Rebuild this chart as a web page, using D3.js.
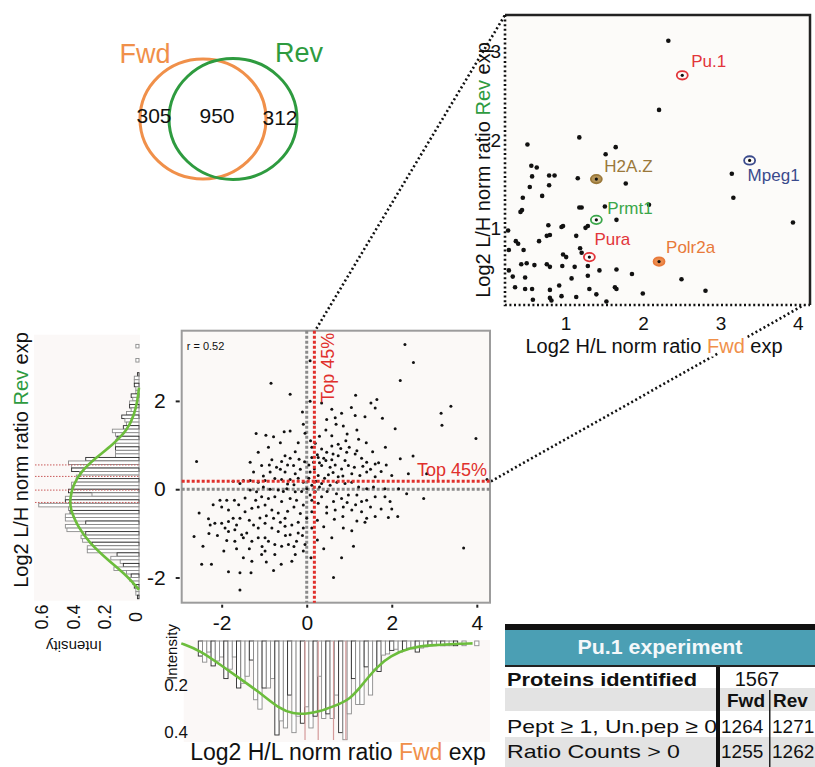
<!DOCTYPE html>
<html lang="en">
<head>
<meta charset="UTF-8">
<title>Pu.1 experiment - Fwd vs Rev</title>
<script src="https://d3js.org/d3.v7.min.js"></script>
<style>
  body { margin: 0; background: #fff; }
  svg { display: block; font-family: "Liberation Sans", Arial, Helvetica, sans-serif; }
</style>
</head>
<body>
<svg id="chart" width="815" height="767"></svg>
<script>
// ---- data ----
const vennLabels = ["Fwd", "Rev"];
const vennCounts = [305, 950, 312];          // Fwd only, both, Rev only

// main scatter: [log2 H/L Fwd, log2 L/H Rev]
const mainPoints = [
  [2.31,3.28],[2.51,2.87],[2.20,2.46],[-0.84,2.40],[-0.39,2.15],[0.08,2.91],[0.08,1.99],[0.59,1.81],[0.82,1.72],[1.15,2.13],
  [1.51,1.95],[1.65,2.03],[1.61,1.84],[1.14,1.67],[1.37,1.64],[1.78,1.61],[2.08,1.37],[3.16,1.72],[3.39,1.88],[3.18,1.45],
  [3.98,1.15],[-1.19,1.26],[-0.96,1.22],[-0.78,1.19],[-0.53,1.30],[-0.39,1.32],[-0.08,1.47],[-0.04,1.27],[0.09,1.10],[0.20,1.04],
  [0.12,0.95],[0.47,1.58],[0.69,1.47],[0.67,1.62],[0.45,1.34],[0.59,1.21],[0.86,1.43],[1.18,1.34],[1.22,1.13],[0.92,1.10],
  [0.74,1.02],[0.59,0.98],[0.35,0.91],[0.47,0.84],[0.27,0.72],[0.45,0.65],[0.59,0.67],[0.74,0.76],[0.94,0.84],[1.14,0.80],
  [1.18,0.87],[1.29,0.70],[1.41,0.61],[1.61,0.57],[1.69,0.60],[1.87,0.55],[2.20,0.69],[0.90,0.65],[0.55,0.50],[0.67,0.55],
  [0.98,0.54],[0.82,0.46],[0.35,0.54],[0.16,0.61],[0.18,0.46],[0.08,0.39],[0.27,0.31],[0.51,0.33],[0.74,0.28],[1.06,0.35],
  [1.25,0.31],[1.41,0.39],[1.61,0.28],[2.00,0.31],[2.39,0.35],[2.82,0.35],[-0.27,0.85],[-0.51,0.76],[-0.82,0.67],[-1.14,0.84],
  [-1.33,0.61],[-1.25,0.39],[-1.06,0.54],[-0.86,0.39],[-0.71,0.50],[-0.59,0.63],[-0.39,0.70],[-0.31,0.54],[-0.27,0.35],[-0.51,0.39],
  [-0.75,0.24],[-0.98,0.20],[-1.14,0.16],[-1.49,0.20],[-1.73,0.18],[-1.57,0.13],[-1.33,0.20],[-0.59,0.22],[-0.39,0.22],[-0.20,0.25],
  [-0.08,0.16],[0.00,0.01],[0.12,0.09],[0.35,0.13],[0.55,0.09],[0.71,0.16],[0.90,0.13],[1.06,0.16],[1.22,0.05],[1.41,0.01],
  [1.57,0.05],[1.84,0.01],[2.16,0.01],[2.75,-0.21],[4.24,0.22],[-2.59,0.63],[0.08,-0.13],[0.20,-0.06],[0.35,-0.17],[0.12,-0.25],
  [-0.08,-0.36],[-0.27,-0.06],[-0.47,0.01],[-0.67,-0.02],[-0.86,0.00],[-1.02,0.05],[-1.18,-0.06],[-1.33,-0.02],[-1.06,-0.17],[-0.90,-0.21],
  [-0.75,-0.17],[-0.59,-0.28],[-0.39,-0.21],[-0.24,-0.25],[0.27,-0.32],[0.47,-0.40],[0.63,-0.28],[0.82,-0.21],[0.98,-0.13],[1.18,-0.13],
  [1.29,-0.28],[1.41,-0.25],[1.61,-0.17],[1.84,-0.17],[1.96,-0.28],[0.47,-0.54],[0.67,-0.47],[0.86,-0.40],[1.06,-0.47],[1.29,-0.51],
  [1.41,-0.66],[1.61,-0.62],[1.92,-0.64],[2.14,-0.62],[1.18,-0.72],[1.37,-0.75],[1.06,-0.94],[0.86,-0.88],[0.59,-1.10],[0.82,-1.55],
  [0.63,-2.00],[1.10,-1.29],[0.12,-0.51],[0.00,-0.66],[0.12,-0.88],[-0.08,-0.88],[-0.20,-0.99],[-0.35,-0.81],[-0.51,-0.66],[-0.67,-0.54],
  [-0.82,-0.47],[-0.98,-0.36],[-1.14,-0.40],[-1.29,-0.43],[-1.45,-0.51],[-1.57,-0.66],[-1.65,-0.81],[-1.84,-0.73],[-2.00,-0.77],[-2.16,-0.77],
  [-2.31,-0.67],[-2.53,-0.54],[-2.27,-0.81],[-2.04,-0.25],[-1.88,-0.25],[-1.70,-0.25],[-2.00,-0.40],[-1.84,-0.47],[-1.73,-0.66],[-1.92,-0.88],
  [-1.84,-0.96],[-1.69,-0.92],[-1.53,-1.03],[-1.41,-0.99],[-1.25,-0.81],[-1.14,-0.88],[-0.98,-0.77],[-0.78,-0.66],[-0.82,-0.88],[-0.67,-0.96],
  [-0.51,-0.84],[-0.39,-1.03],[-0.24,-1.18],[-0.43,-1.25],[-0.59,-1.29],[-0.75,-1.25],[-0.90,-1.18],[-0.98,-1.10],[-1.14,-1.10],[-1.29,-1.18],
  [-1.49,-1.10],[-1.69,-1.18],[-1.88,-1.16],[-2.65,-1.07],[-2.44,-1.29],[-2.47,-1.70],[-2.24,-1.70],[-1.84,-1.87],[-1.57,-1.89],[-1.31,-1.89],
  [-1.49,-1.55],[-1.29,-1.63],[-1.06,-1.48],[-0.98,-1.40],[-0.75,-1.48],[-0.78,-1.84],[-0.35,-1.63],[-0.27,-1.48],[-0.08,-1.40],[-0.04,-1.25],
  [-1.57,-2.28],[3.69,-1.33],
  [0.25,0.78],[0.40,0.70],[0.62,0.80],[0.80,0.92],[1.00,0.95],[0.30,0.60],[0.12,0.72],[0.05,0.55],[-0.05,0.62],[-0.15,0.45],
  [-0.18,0.68],[-0.45,0.55],[-0.62,0.45],[-0.88,0.55],[-1.02,0.30],[-0.45,0.12],[-0.30,0.10],[-0.12,-0.05],[0.05,0.25],[0.22,0.18],
  [0.42,0.25],[0.62,0.38],[0.85,0.30],[1.12,0.50],[1.32,0.52],[1.50,0.45],[1.75,0.40],[0.30,0.05],[0.48,-0.05],[0.70,-0.10],
  [0.95,-0.30],[1.15,-0.35],[1.50,-0.40],[1.75,-0.45],[0.25,-0.70],[0.40,-0.85],[0.65,-0.68],[0.85,-0.62],[-0.15,-0.55],[-0.30,-0.40],
  [-0.45,-0.50],[-0.62,-0.75],[-0.95,-0.60],[-1.10,-0.65],[-1.35,-0.70],[-1.60,-0.35],[-1.45,-0.20],[-1.20,-0.25],[-0.55,-0.05],[-0.20,-0.75],
  [-0.30,-1.30],[-0.50,-1.05],[-0.10,-1.05],[0.25,-1.15],[0.40,-1.35],[-1.05,-1.30],[-1.35,-1.35],[-1.65,-1.35],[-2.10,-1.05],[-2.20,-0.35],
  [-0.90,0.95],[-0.62,1.05],[-0.20,1.05],[0.30,1.20],[0.95,1.25],[1.40,1.05],[1.55,0.85],[1.85,0.95],[2.50,0.75],[2.35,-0.10],
  [2.00,-0.45],[0.18,1.50],[-0.10,1.75],[0.35,1.95],[1.05,1.85],[-0.95,-1.65],[-0.60,-1.70],[0.10,-1.55],[-1.95,-1.40],[-2.30,-1.00]
];
const corrText = "r = 0.52";
const topCut = 0.18;                  // "Top 45%" threshold, both axes
const topLabel = "Top 45%";
const mainXTicks = [-2, 0, 2, 4];
const mainYTicks = [-2, 0, 2];

// zoomed top-right quadrant
const zoomPoints = [
  [2.32,3.12],[2.20,2.34],[1.17,2.03],[0.50,1.95],[1.64,1.92],[1.51,1.84],[0.55,1.71],[0.62,1.69],[0.78,1.60],[0.85,1.60],
  [0.56,1.59],[1.15,1.57],[1.77,1.51],[3.14,1.62],[0.53,1.47],[0.78,1.49],[0.69,1.37],[0.44,1.35],[3.16,1.35],[1.17,1.24],
  [1.20,1.24],[1.50,1.25],[2.07,1.27],[0.43,1.21],[0.41,1.19],[1.65,1.10],[3.93,1.07],[0.77,1.04],[0.94,1.02],[0.96,1.03],
  [1.28,1.03],[1.25,1.01],[0.25,0.98],[0.79,0.93],[0.75,0.92],[0.65,0.86],[1.13,0.92],[0.35,0.86],[0.38,0.83],[0.26,0.76],
  [0.45,0.76],[0.96,0.71],[1.00,0.68],[1.18,0.78],[1.20,0.73],[0.42,0.60],[0.49,0.61],[0.59,0.59],[0.75,0.60],[0.79,0.57],
  [0.95,0.58],[1.11,0.57],[1.28,0.58],[1.43,0.53],[1.65,0.54],[1.85,0.49],[0.26,0.53],[0.31,0.46],[0.47,0.45],[0.34,0.34],
  [0.47,0.32],[0.56,0.32],[0.79,0.31],[0.91,0.36],[1.07,0.44],[1.28,0.47],[1.63,0.34],[1.65,0.32],[1.99,0.27],[2.49,0.43],
  [2.80,0.30],[1.39,0.26],[1.13,0.23],[0.94,0.24],[0.79,0.22],[0.57,0.20],[0.81,0.19],[1.52,0.18],[1.30,0.32]
];
const markedNames = ["Pu.1", "H2A.Z", "Prmt1", "Pura", "Polr2a", "Mpeg1"];
const markedX = [2.50, 1.39, 1.39, 1.30, 2.20, 3.37];
const markedY = [2.73, 1.56, 1.10, 0.68, 0.63, 1.77];
const zoomXTicks = [1, 2, 3, 4];
const zoomYTicks = [1, 2, 3];

// Rev histogram (left, rotated); bins listed from the top (high ratio) down
const revBinTop = 3.36, revBinStep = 0.08;
const revHist = [
  0,0.02,0,0,0,0.02,0,0,0,0.01,
  0.03,0.03,0.03,0.02,0.02,0.05,0.04,0.06,0.06,0.05,
  0.08,0.11,0.09,0.08,0.10,0.17,0.15,0.14,0.15,0.15,
  0.15,0.15,0.15,0.34,0.45,0.43,0.43,0.38,0.40,0.40,
  0.43,0.43,0.45,0.30,0.47,0.47,0.64,0.45,0.44,0.47,
  0.47,0.34,0.47,0.46,0.34,0.37,0.36,0.30,0.33,0.33,
  0.14,0.18,0.12,0.10,0.16,0.08,0.05,0.06,0.04,0.03,
  0.02,0.02,0.01
];
const revDensity = [[2.3,0],[2.0,0.01],[1.7,0.03],[1.35,0.07],[1.0,0.17],[0.7,0.28],[0.4,0.37],[0.1,0.42],
  [-0.2,0.44],[-0.45,0.44],[-0.85,0.39],[-1.2,0.32],[-1.6,0.20],[-1.98,0.07],[-2.28,0]];
const revQuantiles = [0.55, 0.29, -0.02, -0.30];
const revIntTicks = [0, 0.2, 0.4, 0.6];

// Fwd histogram (bottom, hanging); bins listed from the left
const fwdBinStart = -2.55, fwdBinStep = 0.1;
const fwdHist = [
  0.064,0.09,0.047,0.106,0.085,0.068,0.16,0.12,0.068,0.20,
  0.18,0.15,0.081,0.25,0.29,0.20,0.20,0.16,0.40,0.34,
  0.37,0.23,0.39,0.32,0.35,0.28,0.37,0.32,0.15,0.33,
  0.31,0.33,0.23,0.39,0.42,0.31,0.16,0.27,0.27,0.11,
  0.23,0.12,0.13,0.06,0.055,0.04,0.035,0.047,0.038,0.03,
  0.033,0.047,0.03,0.025,0.02,0.02,0.015,0.02,0.02,0.02,
  0.02,0,0.02,0,0,0.02
];
const fwdDensity = [[-2.95,0.01],[-2.51,0.04],[-2.04,0.10],[-1.57,0.16],[-1.10,0.22],[-0.63,0.29],[-0.32,0.31],
  [0.0,0.31],[0.31,0.30],[0.6,0.28],[1.02,0.25],[1.33,0.18],[1.65,0.11],[1.96,0.064],[2.43,0.028],[2.9,0.018],[3.5,0.012],[3.9,0.01]];
const fwdQuantiles = [-0.04, 0.27, 0.63, 0.92];
const fwdIntTicks = [0.2, 0.4];

// summary table
const tableTitle = "Pu.1 experiment";
const tableTotal = ["Proteins identified", "1567"];
const tableCols = ["Fwd", "Rev"];
const tableRows = [
  ["Pept \u2265 1, Un.pep \u2265 0", "1264", "1271"],
  ["Ratio Counts > 0", "1255", "1262"]
];

// ---- drawing ----
const ORANGE = "#f0904a", GREEN = "#2e9b3f", RED = "#e0302c", CURVE = "#6cbd3c";
const svg = d3.select("#chart");

// Venn
svg.append("ellipse").attr("cx", 203).attr("cy", 119).attr("rx", 63).attr("ry", 60)
  .attr("fill", "none").attr("stroke", ORANGE).attr("stroke-width", 3);
svg.append("ellipse").attr("cx", 233).attr("cy", 119).attr("rx", 64).attr("ry", 60.5)
  .attr("fill", "none").attr("stroke", GREEN).attr("stroke-width", 3);
svg.append("text").attr("x", 145).attr("y", 63).attr("text-anchor", "middle")
  .attr("font-size", 27).attr("fill", ORANGE).text(vennLabels[0]);
svg.append("text").attr("x", 299).attr("y", 62).attr("text-anchor", "middle")
  .attr("font-size", 27).attr("fill", GREEN).text(vennLabels[1]);
const vennPos = [[154, 123], [217, 123], [280, 125]];
vennCounts.forEach((c, i) => {
  svg.append("text").attr("x", vennPos[i][0]).attr("y", vennPos[i][1]).attr("text-anchor", "middle")
    .attr("font-size", 21).attr("fill", "#111").text(c);
});

// main scatter
const x = d3.scaleLinear().domain([-2.94, 4.31]).range([181.7, 490]);
const y = d3.scaleLinear().domain([-2.57, 3.59]).range([602.7, 330.7]);
const [x0, x1] = x.range(), [y0, y1] = y.range();

// connector lines to the zoomed quadrant
const zx = d3.scaleLinear().domain([0.21, 4.15]).range([505, 810]);
const zy = d3.scaleLinear().domain([0.14, 3.41]).range([305, 15]);
const dotted = g => g.attr("stroke", "#111").attr("stroke-width", 2.6).attr("stroke-dasharray", "2,2.6");
svg.append("line").attr("x1", x(topCut) + 2).attr("y1", y1 - 2).attr("x2", zx.range()[0]).attr("y2", zy.range()[1]).call(dotted);
svg.append("line").attr("x1", x1 + 1).attr("y1", y(topCut)).attr("x2", zx.range()[1] - 6).attr("y2", zy.range()[0]).call(dotted);

svg.append("rect").attr("x", x0).attr("y", y1).attr("width", x1 - x0).attr("height", y0 - y1)
  .attr("fill", "#fbf9f7").attr("stroke", "#9c9c9c").attr("stroke-width", 2);

svg.append("line").attr("x1", x(0)).attr("x2", x(0)).attr("y1", y1).attr("y2", y0)
  .attr("stroke", "#8a8a8a").attr("stroke-width", 3).attr("stroke-dasharray", "3,2");
svg.append("line").attr("x1", x0).attr("x2", x1).attr("y1", y(0)).attr("y2", y(0))
  .attr("stroke", "#8a8a8a").attr("stroke-width", 3).attr("stroke-dasharray", "3,2");

svg.append("g").selectAll("circle").data(mainPoints).join("circle")
  .attr("cx", d => x(d[0])).attr("cy", d => y(d[1])).attr("r", 1.5).attr("fill", "#111");

svg.append("line").attr("x1", x(topCut)).attr("x2", x(topCut)).attr("y1", y1).attr("y2", y0)
  .attr("stroke", RED).attr("stroke-width", 3).attr("stroke-dasharray", "3,2");
svg.append("line").attr("x1", x0).attr("x2", x1).attr("y1", y(topCut)).attr("y2", y(topCut))
  .attr("stroke", RED).attr("stroke-width", 3).attr("stroke-dasharray", "3,2");

svg.append("text").attr("transform", `translate(${x(topCut) + 13},${y1 + 37}) rotate(-90)`)
  .attr("text-anchor", "middle").attr("dy", "0.35em").attr("font-size", 18).attr("fill", RED).text(topLabel);
svg.append("text").attr("x", x1 - 3).attr("y", y(topCut) - 5).attr("text-anchor", "end")
  .attr("font-size", 18).attr("fill", RED).text(topLabel);
svg.append("text").attr("x", x0 + 5).attr("y", y1 + 19).attr("font-size", 11).attr("fill", "#111").text(corrText);

const yAx = svg.append("g").attr("transform", `translate(${x0 - 2},0)`)
  .call(d3.axisLeft(y).tickValues(mainYTicks).tickSize(4).tickPadding(10).tickFormat(d3.format("d")));
const xAx = svg.append("g").attr("transform", `translate(0,${y0 + 2})`)
  .call(d3.axisBottom(x).tickValues(mainXTicks).tickSize(3).tickPadding(7).tickFormat(d3.format("d")));
[yAx, xAx].forEach(a => {
  a.select(".domain").remove();
  a.selectAll("line").attr("stroke", "#222").attr("stroke-width", 2);
  a.selectAll("text").attr("font-size", 21).attr("fill", "#111").style("font-family", "inherit");
});
xAx.selectAll("text").text(d => d < 0 ? "-" + Math.abs(d) : d);
yAx.selectAll("text").text(d => d < 0 ? "-" + Math.abs(d) : d);

// Rev histogram, rotated to the left of the scatter
const hx = d3.scaleLinear().domain([0, 0.6]).range([139, 45]);
const barStroke = (d, i) => (i % 3 === 0 ? "#2a2a2a" : "#8c8c8c");
svg.append("rect").attr("x", 34).attr("y", y1 + 4).attr("width", 106).attr("height", y0 - y1 - 6).attr("fill", "#fbf8f7");
svg.append("g").selectAll("rect").data(revHist).join("rect")
  .attr("x", d => hx(d)).attr("width", d => hx(0) - hx(d))
  .attr("y", (d, i) => y(revBinTop - i * revBinStep))
  .attr("height", (d, i) => y(revBinTop - (i + 1) * revBinStep) - y(revBinTop - i * revBinStep))
  .attr("fill", "#fff").attr("stroke", barStroke).attr("stroke-width", 0.9);
svg.append("g").selectAll("line").data(revQuantiles).join("line")
  .attr("x1", 35).attr("x2", hx(0)).attr("y1", d => y(d)).attr("y2", d => y(d))
  .attr("stroke", "#c95a5a").attr("stroke-width", 1).attr("stroke-dasharray", "1.5,1.5");
svg.append("path").datum(revDensity)
  .attr("d", d3.line().x(d => hx(d[1])).y(d => y(d[0])).curve(d3.curveBasis))
  .attr("fill", "none").attr("stroke", CURVE).attr("stroke-width", 2.6);
revIntTicks.forEach(t => {
  svg.append("text").attr("transform", `translate(${hx(t) - 3},617) rotate(-90)`)
    .attr("text-anchor", "middle").attr("dy", "0.35em").attr("font-size", 18).attr("fill", "#111").text(t);
});
svg.append("text").attr("transform", "translate(74,646) rotate(180)").attr("text-anchor", "middle")
  .attr("dy", "0.35em").attr("font-size", 15).attr("fill", "#111").text("Intensity");
const revTitle = svg.append("text").attr("transform", "translate(21,460) rotate(-90)")
  .attr("text-anchor", "middle").attr("dy", "0.35em").attr("font-size", 20).attr("fill", "#111");
revTitle.append("tspan").text("Log2 L/H norm ratio ");
revTitle.append("tspan").attr("fill", GREEN).text("Rev");
revTitle.append("tspan").text(" exp");

// Fwd histogram, hanging under the scatter
const hy = d3.scaleLinear().domain([0, 0.4]).range([641, 735]);
svg.append("rect").attr("x", x0 + 2).attr("y", 640).attr("width", x1 - x0 - 2).attr("height", 102).attr("fill", "#fbf8f7");
svg.append("g").selectAll("rect").data(fwdHist).join("rect")
  .attr("x", (d, i) => x(fwdBinStart + i * fwdBinStep))
  .attr("width", (d, i) => x(fwdBinStart + (i + 1) * fwdBinStep) - x(fwdBinStart + i * fwdBinStep))
  .attr("y", hy(0)).attr("height", d => hy(d) - hy(0))
  .attr("fill", "#fff").attr("stroke", barStroke).attr("stroke-width", 0.9);
svg.append("g").selectAll("line").data(fwdQuantiles).join("line")
  .attr("x1", d => x(d)).attr("x2", d => x(d)).attr("y1", hy(0)).attr("y2", 740)
  .attr("stroke", "#d59a9a").attr("stroke-width", 1.2);
svg.append("path").datum(fwdDensity)
  .attr("d", d3.line().x(d => x(d[0])).y(d => hy(d[1])).curve(d3.curveBasis))
  .attr("fill", "none").attr("stroke", CURVE).attr("stroke-width", 2.6);
fwdIntTicks.forEach(t => {
  svg.append("text").attr("x", 188).attr("y", hy(t) - 3).attr("text-anchor", "end")
    .attr("dy", "0.35em").attr("font-size", 17).attr("fill", "#111").text(t);
});
svg.append("text").attr("transform", "translate(172,652) rotate(-90)").attr("text-anchor", "middle")
  .attr("dy", "0.35em").attr("font-size", 15).attr("fill", "#111").text("Intensity");
const fwdTitle = svg.append("text").attr("x", 338).attr("y", 760).attr("text-anchor", "middle")
  .attr("font-size", 23).attr("fill", "#111");
fwdTitle.append("tspan").text("Log2 H/L norm ratio ");
fwdTitle.append("tspan").attr("fill", ORANGE).text("Fwd");
fwdTitle.append("tspan").text(" exp");

// zoomed quadrant
const [zx0, zx1] = zx.range(), [zy0, zy1] = zy.range();
svg.append("rect").attr("x", zx0).attr("y", zy1).attr("width", zx1 - zx0).attr("height", zy0 - zy1).attr("fill", "#fcfbf9");
svg.append("path").attr("d", `M${zx0},${zy1}H${zx1}V${zy0}`).attr("fill", "none").attr("stroke", "#222").attr("stroke-width", 2.5);
svg.append("path").attr("d", `M${zx0},${zy1}V${zy0}H${zx1}`).attr("fill", "none").call(dotted);

svg.append("g").selectAll("circle").data(zoomPoints).join("circle")
  .attr("cx", d => zx(d[0])).attr("cy", d => zy(d[1])).attr("r", 2.3).attr("fill", "#111");

const markStyle = {
  "Pu.1":   { color: "#e2353a", fill: "none", dx: 9, dy: -8 },
  "H2A.Z":  { color: "#9a783a", fill: "#b59458", dx: 8, dy: -7 },
  "Prmt1":  { color: "#3aa64a", fill: "none", dx: 11, dy: -6 },
  "Pura":   { color: "#e2353a", fill: "none", dx: 5, dy: -12 },
  "Polr2a": { color: "#e8793a", fill: "#ec8c4e", dx: 7, dy: -9 },
  "Mpeg1":  { color: "#3a4a8c", fill: "none", dx: -2, dy: 21 }
};
markedNames.forEach((n, i) => {
  const s = markStyle[n], cx = zx(markedX[i]), cy = zy(markedY[i]);
  svg.append("ellipse").attr("cx", cx).attr("cy", cy).attr("rx", 5.5).attr("ry", 4.2)
    .attr("fill", s.fill === "none" ? "#fcfbf9" : s.fill).attr("stroke", s.color).attr("stroke-width", 1.8);
  svg.append("circle").attr("cx", cx).attr("cy", cy).attr("r", 1.6).attr("fill", "#111");
  svg.append("text").attr("x", cx + s.dx).attr("y", cy + s.dy).attr("font-size", 17)
    .attr("fill", s.color).text(n);
});

zoomXTicks.forEach(t => {
  svg.append("text").attr("x", zx(t)).attr("y", 330).attr("text-anchor", "middle")
    .attr("font-size", 19).attr("fill", "#111").text(t);
});
zoomYTicks.forEach(t => {
  svg.append("text").attr("x", 501).attr("y", zy(t)).attr("dy", "0.35em").attr("text-anchor", "end")
    .attr("font-size", 19).attr("fill", "#111").text(t);
});
const zxTitle = svg.append("text").attr("x", 654).attr("y", 353).attr("text-anchor", "middle")
  .attr("font-size", 20).attr("fill", "#111")
  .style("paint-order", "stroke").attr("stroke", "#fff").attr("stroke-width", 7);
zxTitle.append("tspan").text("Log2 H/L norm ratio ");
zxTitle.append("tspan").attr("fill", ORANGE).text("Fwd");
zxTitle.append("tspan").text(" exp");
const zyTitle = svg.append("text").attr("transform", "translate(483,170) rotate(-90)")
  .attr("text-anchor", "middle").attr("dy", "0.35em").attr("font-size", 20).attr("fill", "#111");
zyTitle.append("tspan").text("Log2 L/H norm ratio ");
zyTitle.append("tspan").attr("fill", GREEN).text("Rev");
zyTitle.append("tspan").text(" exp");

// summary table
const tb = svg.append("g");
tb.append("rect").attr("x", 505).attr("y", 624).attr("width", 310).attr("height", 6).attr("fill", "#111");
tb.append("rect").attr("x", 505).attr("y", 630).attr("width", 310).attr("height", 35).attr("fill", "#4b9fb4");
tb.append("rect").attr("x", 505).attr("y", 665).attr("width", 310).attr("height", 2).attr("fill", "#222");
tb.append("rect").attr("x", 505).attr("y", 688).attr("width", 310).attr("height", 23).attr("fill", "#e3e3e3");
tb.append("rect").attr("x", 505).attr("y", 737).attr("width", 310).attr("height", 30).attr("fill", "#e3e3e3");
tb.append("rect").attr("x", 716).attr("y", 667).attr("width", 4).attr("height", 100).attr("fill", "#111");
tb.append("rect").attr("x", 769).attr("y", 690).attr("width", 1.5).attr("height", 77).attr("fill", "#222");
tb.append("text").attr("x", 660).attr("y", 654).attr("text-anchor", "middle").attr("font-size", 20)
  .attr("font-weight", "bold").attr("fill", "#f4f8fa").attr("textLength", 165).attr("lengthAdjust", "spacingAndGlyphs").text(tableTitle);
tb.append("text").attr("x", 507).attr("y", 686).attr("font-size", 18).attr("font-weight", "bold").attr("fill", "#111")
  .attr("textLength", 190).attr("lengthAdjust", "spacingAndGlyphs").text(tableTotal[0]);
tb.append("text").attr("x", 757).attr("y", 686).attr("text-anchor", "middle").attr("font-size", 20).attr("fill", "#111").text(tableTotal[1]);
tb.append("text").attr("x", 746).attr("y", 707).attr("text-anchor", "middle").attr("font-size", 19).attr("font-weight", "bold").attr("fill", "#111").text(tableCols[0]);
tb.append("text").attr("x", 773).attr("y", 707).attr("font-size", 19).attr("font-weight", "bold").attr("fill", "#111").text(tableCols[1]);
tableRows.forEach((r, i) => {
  const by = [733, 758][i];
  tb.append("text").attr("x", 507).attr("y", by).attr("font-size", 19).attr("fill", "#111")
    .attr("textLength", [210, 173][i]).attr("lengthAdjust", "spacingAndGlyphs").text(r[0]);
  tb.append("text").attr("x", 721).attr("y", by).attr("font-size", 19).attr("fill", "#111").text(r[1]);
  tb.append("text").attr("x", 772).attr("y", by).attr("font-size", 19).attr("fill", "#111").text(r[2]);
});
</script>
</body>
</html>
